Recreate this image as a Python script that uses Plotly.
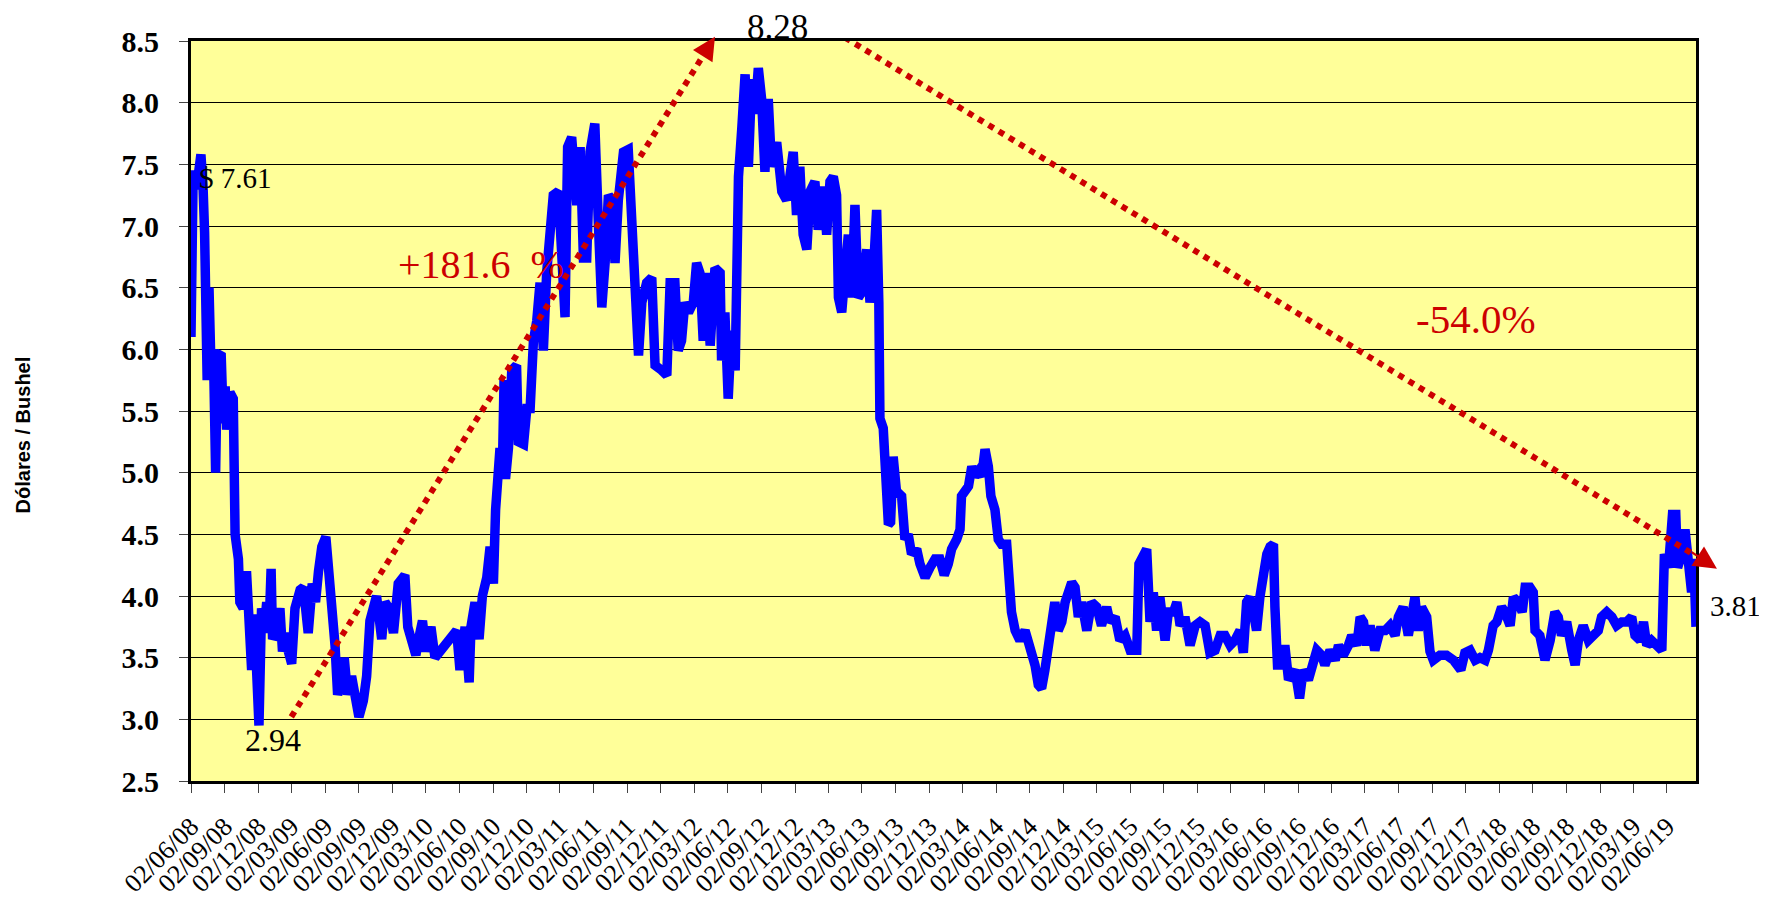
import pandas as pd
import plotly.graph_objects as go

# ---------------- data ----------------
start_date = "2008-06-02"
end_date = "2019-08-20"

# day offsets from start_date, and price in US$/bushel
day_offsets = [
    0, 6, 15, 22, 27, 33, 37, 44, 49, 54, 61, 67, 72, 82, 88, 93, 97, 106, 115, 120,
    129, 133, 142, 151, 158, 165, 172, 179, 185, 192, 200, 206, 212, 218, 222, 230, 242, 249, 256, 265,
    274, 283, 297, 306, 319, 330, 339, 347, 356, 367, 376, 381, 392, 399, 408, 417, 426, 437, 448, 457,
    469, 478, 487, 496, 505, 519, 528, 539, 551, 564, 582, 590, 601, 612, 623, 630, 639, 653, 664, 678,
    691, 705, 723, 732, 746, 757, 762, 773, 784, 793, 805, 814, 823, 829, 836, 841, 847, 852, 856, 864,
    873, 886, 891, 905, 914, 923, 932, 941, 950, 959, 968, 977, 986, 1000, 1009, 1018, 1025, 1036, 1050, 1059,
    1068, 1077, 1086, 1099, 1109, 1118, 1127, 1136, 1145, 1154, 1163, 1177, 1190, 1199, 1208, 1218, 1227, 1240, 1254, 1263,
    1281, 1295, 1304, 1317, 1326, 1335, 1344, 1354, 1367, 1376, 1385, 1394, 1403, 1413, 1426, 1440, 1444, 1453, 1462, 1471,
    1481, 1490, 1499, 1508, 1517, 1526, 1535, 1544, 1553, 1562, 1571, 1580, 1594, 1608, 1621, 1639, 1648, 1657, 1666, 1676,
    1685, 1698, 1707, 1721, 1730, 1739, 1748, 1757, 1762, 1771, 1780, 1789, 1798, 1807, 1816, 1825, 1839, 1848, 1857, 1866,
    1872, 1875, 1884, 1889, 1898, 1904, 1911, 1920, 1934, 1943, 1952, 1961, 1975, 1984, 1998, 2011, 2025, 2038, 2050, 2061,
    2070, 2084, 2093, 2097, 2106, 2116, 2125, 2134, 2143, 2152, 2161, 2170, 2177, 2188, 2197, 2206, 2220, 2224, 2233, 2243,
    2256, 2270, 2279, 2288, 2297, 2306, 2315, 2324, 2333, 2342, 2351, 2360, 2370, 2379, 2388, 2397, 2406, 2415, 2424, 2438,
    2451, 2465, 2478, 2492, 2501, 2515, 2528, 2542, 2556, 2574, 2580, 2592, 2601, 2610, 2619, 2628, 2637, 2651, 2660, 2674,
    2683, 2692, 2705, 2719, 2733, 2746, 2760, 2773, 2787, 2801, 2814, 2828, 2841, 2855, 2864, 2873, 2882, 2891, 2900, 2909,
    2918, 2928, 2937, 2946, 2950, 2957, 2968, 2977, 2987, 3005, 3017, 3027, 3041, 3055, 3064, 3077, 3086, 3100, 3114, 3123,
    3136, 3150, 3159, 3173, 3182, 3191, 3200, 3209, 3222, 3236, 3250, 3263, 3277, 3286, 3299, 3313, 3322, 3331, 3340, 3349,
    3363, 3372, 3381, 3399, 3417, 3436, 3456, 3467, 3481, 3495, 3508, 3522, 3531, 3544, 3554, 3567, 3576, 3590, 3599, 3612,
    3623, 3631, 3644, 3653, 3658, 3671, 3685, 3699, 3712, 3721, 3730, 3744, 3758, 3767, 3776, 3789, 3803, 3817, 3830, 3839,
    3853, 3867, 3880, 3894, 3907, 3921, 3930, 3944, 3953, 3962, 3975, 3989, 4003, 4010, 4021, 4032, 4041, 4046, 4057, 4066,
    4075, 4084, 4090, 4096,
]
prices = [
    6.10, 7.45, 7.30, 7.50, 7.58, 7.30, 6.95, 5.75, 6.50, 5.90, 6.00, 5.00, 5.95, 5.97, 5.40, 5.70, 5.35, 5.65, 5.60, 4.50,
    4.30, 3.95, 3.90, 4.20, 3.75, 3.40, 3.85, 3.30, 2.95, 3.90, 3.75, 3.95, 3.70, 4.22, 3.65, 3.70, 3.90, 3.55, 3.70, 3.55,
    3.45, 3.90, 4.05, 4.07, 3.70, 4.10, 3.95, 4.20, 4.40, 4.48, 4.20, 3.85, 3.60, 3.20, 3.30, 3.50, 3.20, 3.35, 3.10, 3.02,
    3.15, 3.35, 3.80, 3.95, 4.00, 3.65, 3.95, 3.90, 3.70, 4.10, 4.17, 3.75, 3.65, 3.52, 3.70, 3.80, 3.55, 3.75, 3.50, 3.55,
    3.62, 3.65, 3.72, 3.40, 3.75, 3.30, 3.75, 3.95, 3.65, 4.00, 4.15, 4.40, 4.10, 4.70, 5.15, 5.20, 4.95, 5.75, 4.95, 5.20,
    5.83, 5.87, 5.25, 5.23, 5.52, 5.52, 6.07, 6.23, 6.54, 5.99, 6.62, 7.09, 7.25, 7.28, 6.81, 6.26, 7.64, 7.72, 7.17, 7.64,
    6.74, 6.74, 7.60, 7.83, 7.00, 6.34, 6.70, 7.25, 7.21, 6.70, 7.21, 7.60, 7.62, 6.93, 6.50, 5.95, 6.38, 6.54, 6.58, 5.87,
    5.83, 5.79, 6.54, 6.54, 5.99, 6.07, 6.38, 6.30, 6.38, 6.70, 6.62, 6.07, 6.62, 6.03, 6.66, 6.62, 5.91, 6.30, 5.60, 6.15,
    5.83, 7.40, 7.79, 8.23, 7.48, 8.19, 7.91, 8.28, 8.03, 7.44, 8.03, 7.48, 7.68, 7.28, 7.21, 7.60, 7.09, 7.48, 6.93, 6.81,
    7.28, 7.36, 6.97, 7.32, 6.93, 7.36, 7.40, 7.25, 6.42, 6.30, 6.62, 6.93, 6.42, 7.17, 6.42, 6.46, 6.81, 6.38, 6.62, 7.13,
    6.38, 5.44, 5.36, 4.85, 4.58, 4.60, 5.13, 4.85, 4.81, 4.46, 4.50, 4.34, 4.38, 4.26, 4.15, 4.23, 4.30, 4.30, 4.17, 4.26,
    4.38, 4.46, 4.54, 4.81, 4.85, 4.89, 5.05, 4.97, 5.01, 4.97, 5.19, 5.05, 4.81, 4.70, 4.46, 4.42, 4.42, 4.15, 3.87, 3.72,
    3.64, 3.72, 3.64, 3.52, 3.44, 3.28, 3.25, 3.40, 3.60, 3.68, 3.95, 3.72, 3.79, 3.95, 4.07, 4.11, 4.07, 3.83, 3.95, 3.72,
    3.95, 3.91, 3.76, 3.91, 3.79, 3.83, 3.64, 3.68, 3.56, 3.56, 4.26, 4.34, 4.38, 3.79, 4.03, 3.72, 3.99, 3.64, 3.87, 3.87,
    3.95, 3.76, 3.83, 3.60, 3.76, 3.79, 3.76, 3.54, 3.56, 3.68, 3.68, 3.60, 3.64, 3.72, 3.54, 3.95, 3.99, 3.87, 3.72, 3.99,
    4.23, 4.34, 4.40, 4.42, 3.91, 3.44, 3.44, 3.60, 3.32, 3.40, 3.17, 3.40, 3.32, 3.48, 3.56, 3.52, 3.44, 3.56, 3.48, 3.60,
    3.52, 3.60, 3.68, 3.60, 3.83, 3.79, 3.60, 3.76, 3.56, 3.72, 3.72, 3.76, 3.68, 3.83, 3.91, 3.68, 3.87, 3.99, 3.72, 3.91,
    3.83, 3.55, 3.48, 3.52, 3.52, 3.48, 3.40, 3.54, 3.56, 3.48, 3.50, 3.48, 3.56, 3.76, 3.79, 3.91, 3.87, 3.76, 3.99, 3.95,
    3.87, 4.07, 4.07, 4.03, 3.72, 3.68, 3.48, 3.64, 3.87, 3.83, 3.68, 3.79, 3.56, 3.44, 3.64, 3.76, 3.64, 3.68, 3.72, 3.83,
    3.87, 3.83, 3.76, 3.79, 3.79, 3.83, 3.68, 3.64, 3.79, 3.60, 3.64, 3.60, 3.56, 4.34, 4.23, 4.66, 4.66, 4.23, 4.34, 4.54,
    4.34, 4.03, 4.30, 3.75,
]

tick_labels = [
    "02/06/08", "02/09/08", "02/12/08",
    "02/03/09", "02/06/09", "02/09/09", "02/12/09",
    "02/03/10", "02/06/10", "02/09/10", "02/12/10",
    "02/03/11", "02/06/11", "02/09/11", "02/12/11",
    "02/03/12", "02/06/12", "02/09/12", "02/12/12",
    "02/03/13", "02/06/13", "02/09/13", "02/12/13",
    "02/03/14", "02/06/14", "02/09/14", "02/12/14",
    "02/03/15", "02/06/15", "02/09/15", "02/12/15",
    "02/03/16", "02/06/16", "02/09/16", "02/12/16",
    "02/03/17", "02/06/17", "02/09/17", "02/12/17",
    "02/03/18", "02/06/18", "02/09/18", "02/12/18",
    "02/03/19", "02/06/19",
]

# trend arrows: (day offset, price) of start, end of dotted line, arrow tip
rise_arrow_days = [273, 1399]
rise_arrow_vals = [3.02, 8.406]
rise_tip = (1426, 8.535)
rise_tail = (1406, 8.44)
fall_arrow_days = [1780, 4091]
fall_arrow_vals = [8.527, 4.334]
fall_tip = (4153, 4.221)
fall_tail = (4080, 4.364)

# --------------------------------------------------------------
t0 = pd.Timestamp(start_date)


def to_date(d):
    return t0 + pd.Timedelta(days=d)


dates = [to_date(d) for d in day_offsets]
tick_vals = [pd.to_datetime(s, format="%d/%m/%y") for s in tick_labels]

RED = "#CC0000"
SERIF = "Liberation Serif"

fig = go.Figure()
fig.add_trace(go.Scatter(
    x=dates, y=prices, mode="lines",
    line=dict(color="#0000FF", width=9.5),
    hoverinfo="x+y", showlegend=False,
))
for xs, ys in [(rise_arrow_days, rise_arrow_vals), (fall_arrow_days, fall_arrow_vals)]:
    fig.add_trace(go.Scatter(
        x=[to_date(d) for d in xs], y=ys, mode="lines",
        line=dict(color=RED, width=6, dash="dot"),
        hoverinfo="skip", showlegend=False,
    ))

annotations = []
for tip, tail in [(rise_tip, rise_tail), (fall_tip, fall_tail)]:
    annotations.append(dict(
        x=to_date(tip[0]), y=tip[1], xref="x", yref="y",
        ax=to_date(tail[0]), ay=tail[1], axref="x", ayref="y",
        showarrow=True, arrowhead=2, arrowsize=2, arrowwidth=2.3,
        arrowcolor=RED, text="",
    ))

# value labels
annotations += [
    dict(x=to_date(17), y=7.39, xref="x", yref="y", text="$ 7.61",
         showarrow=False, xanchor="left", yanchor="middle",
         font=dict(family=SERIF, size=29, color="black")),
    dict(x=to_date(223), y=2.83, xref="x", yref="y", text="2.94",
         showarrow=False, xanchor="center", yanchor="middle",
         font=dict(family=SERIF, size=32, color="black")),
    dict(x=to_date(1597), y=1, xref="x", yref="paper", text="8.28",
         showarrow=False, xanchor="center", yanchor="middle", yshift=14,
         font=dict(family=SERIF, size=35, color="black")),
    dict(x=1, y=3.92, xref="paper", yref="y", text="3.81",
         showarrow=False, xanchor="left", yanchor="middle", xshift=12,
         font=dict(family=SERIF, size=29, color="black")),
    dict(x=to_date(789), y=6.69, xref="x", yref="y", text="+181.6 \u00a0%",
         showarrow=False, xanchor="center", yanchor="middle",
         font=dict(family=SERIF, size=40, color=RED)),
    dict(x=to_date(3497), y=6.245, xref="x", yref="y", text="-54.0%",
         showarrow=False, xanchor="center", yanchor="middle",
         font=dict(family=SERIF, size=41, color=RED)),
    dict(x=0, y=0.467, xref="paper", yref="paper", text="Dólares / Bushel",
         showarrow=False, xanchor="center", yanchor="middle", xshift=-168,
         textangle=-90,
         font=dict(family="Liberation Sans", size=20,
                   color="black", weight="bold")),
]

# the page body adds an 8px margin, so the figure is sized to end at the window edge
fig.update_layout(
    width=1759, height=901,
    margin=dict(l=183, r=71, t=33, b=128, autoexpand=False),
    paper_bgcolor="white",
    plot_bgcolor="#FFFF99",
    annotations=annotations,
    showlegend=False,
)
fig.update_xaxes(
    type="date",
    range=[start_date, end_date],
    tickmode="array", tickvals=tick_vals, ticktext=tick_labels,
    tickangle=-45,
    ticks="outside", ticklen=9, tickwidth=1, tickcolor="#444",
    ticklabelstandoff=8,
    tickfont=dict(family=SERIF, size=26, color="black"),
    showgrid=False, zeroline=False,
    showline=True, linewidth=3, linecolor="black", mirror=True,
)
fig.update_yaxes(
    range=[2.5, 8.5], tick0=2.5, dtick=0.5, tickformat=".1f",
    ticks="outside", ticklen=9, tickwidth=1, tickcolor="#444",
    ticklabelstandoff=14,
    tickfont=dict(family=SERIF, size=30, color="black", weight="bold"),
    showgrid=True, gridcolor="black", gridwidth=1,
    zeroline=False,
    showline=True, linewidth=3, linecolor="black", mirror=True,
)

fig.write_html("out.html")
